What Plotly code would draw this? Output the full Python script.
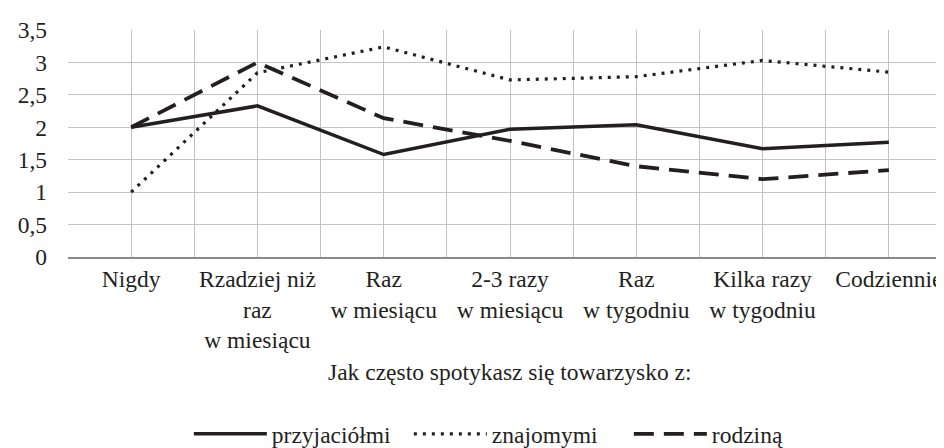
import plotly.graph_objects as go

categories = ["Nigdy", "Rzadziej niż<br>raz<br>w miesiącu", "Raz<br>w miesiącu", "2-3 razy<br>w miesiącu",
              "Raz<br>w tygodniu", "Kilka razy<br>w tygodniu", "Codziennie"]
przyjaciolmi = [2.0, 2.33, 1.58, 1.97, 2.04, 1.67, 1.77]
znajomymi = [1.0, 2.84, 3.24, 2.73, 2.78, 3.03, 2.85]
rodzina = [2.0, 3.0, 2.14, 1.79, 1.40, 1.20, 1.34]
y_ticks = [0, 0.5, 1, 1.5, 2, 2.5, 3, 3.5]

x = list(range(len(categories)))
# ticks at category centres (labelled) and boundaries (unlabelled) -> gridlines at both
grid_vals, grid_text = [], []
for i, c in enumerate(categories):
    grid_vals += [i - 0.5, i]
    grid_text += ["", c]
grid_vals.append(len(categories) - 0.5)
grid_text.append("")

FONT = "Liberation Serif"
FS = 23.5
INK = "#231f20"
GRID = "#c3c3c3"

fig = go.Figure()
fig.add_trace(go.Scatter(x=x, y=przyjaciolmi, mode="lines", name="przyjaciółmi",
                         line=dict(color=INK, width=3.5)))
fig.add_trace(go.Scatter(x=x, y=znajomymi, mode="lines", name="znajomymi",
                         line=dict(color=INK, width=3.2, dash="3px,6px")))
fig.add_trace(go.Scatter(x=x, y=rodzina, mode="lines", name="rodziną",
                         line=dict(color=INK, width=3.8, dash="20px,10px")))

fig.update_layout(
    width=944, height=448,
    margin=dict(l=60, r=0, t=22, b=193),
    paper_bgcolor="white", plot_bgcolor="white",
    separators=", ",
    font=dict(family=FONT, size=FS, color=INK),
    showlegend=True,
    legend=dict(orientation="h", x=0.51, xanchor="center", y=-0.78, yanchor="middle",
                font=dict(family=FONT, size=FS, color=INK), tracegroupgap=0,
                itemwidth=73, entrywidth=132, entrywidthmode="pixels"),
    xaxis=dict(range=[-0.5, 6.5], tickmode="array", tickvals=grid_vals, ticktext=grid_text,
               showgrid=True, gridcolor=GRID, gridwidth=1,
               showline=True, linecolor="#8a8a8a", linewidth=2, ticks="", zeroline=False,
               tickangle=0, fixedrange=True, ticklabeloverflow="allow"),
    yaxis=dict(range=[0, 3.5], tickmode="array", tickvals=y_ticks,
               showgrid=True, gridcolor=GRID, gridwidth=1, zeroline=False,
               showline=False, ticks="", ticklabelstandoff=20),
    annotations=[dict(text="Jak często spotykasz się towarzysko z:", xref="paper", yref="paper",
                      x=0.5, y=-0.505, xanchor="center", yanchor="middle", showarrow=False,
                      font=dict(family=FONT, size=FS, color=INK))],
)

fig.write_html("out.html")
